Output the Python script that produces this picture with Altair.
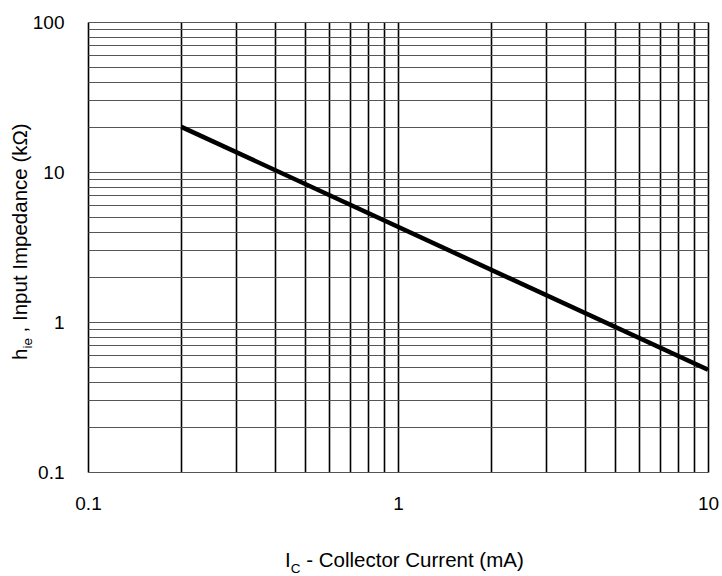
import altair as alt
import pandas as pd

# ---- data ----
ic_ma = [0.2, 10.0]            # collector current (mA)
hie_kohm = [20.0, 0.48]        # input impedance (kOhm)

x_grid = [0.1, 0.2, 0.3, 0.4, 0.5, 0.6, 0.7, 0.8, 0.9, 1, 2, 3, 4, 5, 6, 7, 8, 9, 10]
y_grid = [0.1, 0.2, 0.3, 0.4, 0.5, 0.6, 0.7, 0.8, 0.9, 1, 2, 3, 4, 5, 6, 7, 8, 9,
          10, 20, 30, 40, 50, 60, 70, 80, 90, 100]
x_labels = [0.1, 1, 10]
y_labels = [0.1, 1, 10, 100]

FONT = "Liberation Sans"
W, H = 620, 450

line_df = pd.DataFrame({"ic": ic_ma, "hie": hie_kohm})

xscale = alt.Scale(type="log", domain=[0.1, 10], nice=False)
yscale = alt.Scale(type="log", domain=[0.1, 100], nice=False)

label_x_expr = "indexof(%s, datum.value) >= 0 ? format(datum.value, '~g') : ''" % x_labels
label_y_expr = "indexof(%s, datum.value) >= 0 ? format(datum.value, '~g') : ''" % y_labels

base = alt.Chart(line_df).mark_line(color="black", strokeWidth=4.5, clip=True).encode(
    x=alt.X("ic:Q", scale=xscale, axis=alt.Axis(
        values=x_grid, grid=True, gridColor="black", gridWidth=1.6, gridOpacity=1,
        ticks=False, domain=False, labelExpr=label_x_expr, labelFont=FONT,
        labelFontSize=19, labelColor="black", labelPadding=22, title=None,
        labelFlush=False, labelOverlap=False)),
    y=alt.Y("hie:Q", scale=yscale, axis=alt.Axis(
        values=y_grid, grid=True, gridColor="#555555", gridWidth=1, gridOpacity=1,
        ticks=False, domain=False, labelExpr=label_y_expr, labelFont=FONT,
        labelFontSize=19, labelColor="black", labelPadding=24, title=None,
        labelFlush=False, labelOverlap=False)),
)

dummy = pd.DataFrame({"a": [0]})


def txt(s, x, y, size=20.5, angle=0):
    kw = dict(font=FONT, fontSize=size, color="black", align="left",
              baseline="alphabetic")
    if angle:
        kw["angle"] = angle
    return alt.Chart(dummy).mark_text(**kw).encode(
        x=alt.value(x), y=alt.value(y), text=alt.value(s))


# x title: I_C - Collector Current (mA)
xt = txt("I", 197, 545) + txt("C", 202.7, 550.5, size=13.5) + \
    txt("- Collector Current (mA)", 218.2, 545)
# y title: h_ie , Input Impedance (kΩ)
yt = txt("h", -61, 338, angle=270) + txt("ie", -56.5, 326.6, size=13.5, angle=270) + \
    txt(", Input Impedance (kΩ)", -61, 310.4, angle=270)

chart = alt.layer(base, xt, yt).properties(
    width=W, height=H,
    autosize=alt.AutoSizeParams(type="none"),
    padding={"left": 88, "top": 22, "right": 14, "bottom": 104},
).configure_view(stroke="black", strokeWidth=1.2).configure(background="white")

chart.save("out.html", embed_options={"renderer": "svg", "actions": False})
